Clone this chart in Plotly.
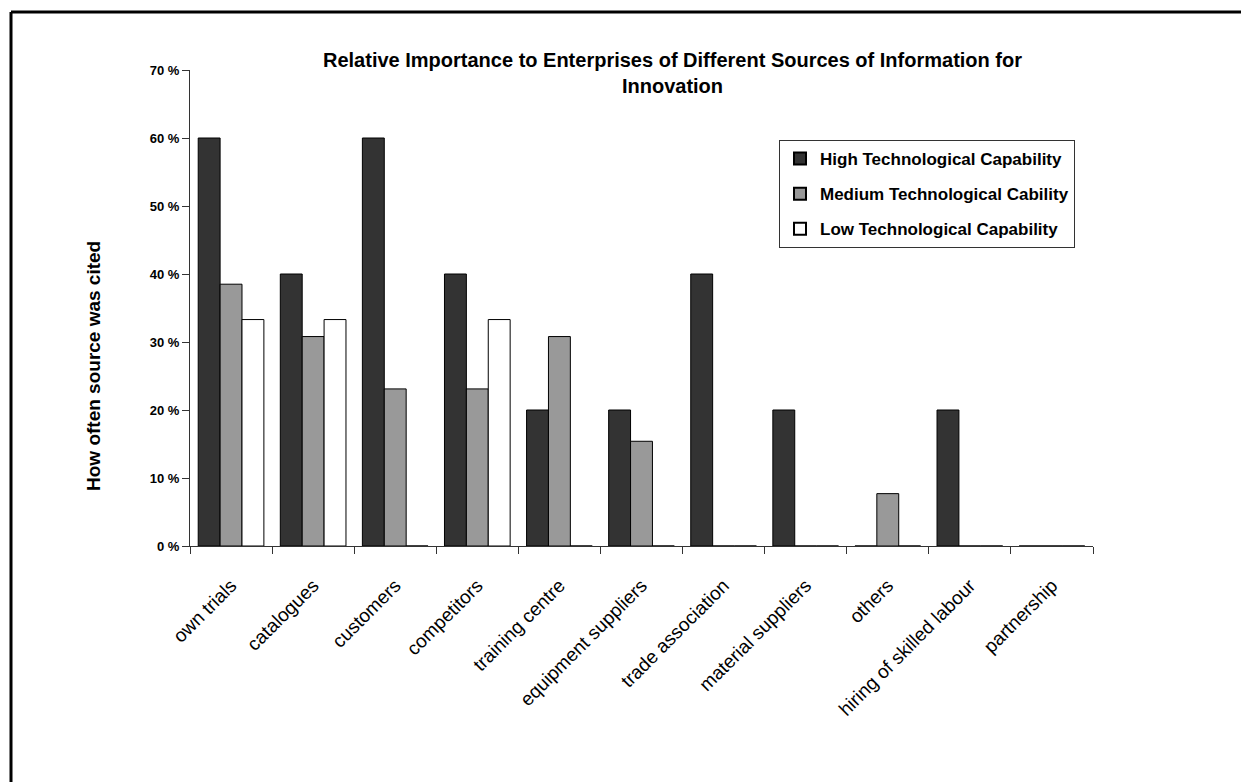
import plotly.graph_objects as go

categories = ["own trials", "catalogues", "customers", "competitors", "training centre",
              "equipment suppliers", "trade association", "material suppliers", "others",
              "hiring of skilled labour", "partnership"]
high = [60, 40, 60, 40, 20, 20, 40, 20, 0, 20, 0]
medium = [38.5, 30.8, 23.1, 23.1, 30.8, 15.4, 0, 0, 7.7, 0, 0]
low = [33.3, 33.3, 0, 33.3, 0, 0, 0, 0, 0, 0, 0]

series_names = ["High Technological Capability", "Medium Technological Cability",
                "Low Technological Capability"]
series_values = [high, medium, low]
series_colors = ["#333333", "#999999", "#ffffff"]

fig = go.Figure()
for i, (name, vals, col) in enumerate(zip(series_names, series_values, series_colors)):
    fig.add_trace(go.Bar(
        x=categories, y=vals, name=name, legendgroup=f"g{i}",
        marker=dict(color=col, line=dict(color="#000000", width=1)),
    ))

L, R, T, B = 190, 148, 70, 236
W, H = 1241, 782
pw, ph = W - L - R, H - T - B

def px_x(x):
    return (x - L) / pw

def px_y(y):
    return (H - B - y) / ph

FONT = "Liberation Sans, Arial, sans-serif"

fig.update_layout(
    width=W, height=H,
    margin=dict(l=L, r=R, t=T, b=B, pad=0),
    paper_bgcolor="white", plot_bgcolor="white",
    barmode="group", bargap=0.2, bargroupgap=0,
    font=dict(family=FONT, color="#000000"),
    showlegend=True,
    legend=dict(
        x=px_x(779), y=px_y(140), xanchor="left", yanchor="top",
        bgcolor="white", bordercolor="#333333", borderwidth=1,
        font=dict(size=17, family=FONT, weight="bold"),
        traceorder="grouped", tracegroupgap=10,
        itemsizing="constant",
    ),
    xaxis=dict(
        showline=True, linecolor="#333333", linewidth=1,
        ticks="outside", tickson="boundaries", ticklen=7, tickcolor="#333333",
        tickangle=-45, tickfont=dict(size=19, family=FONT),
        ticklabelstandoff=20,
        showgrid=False, zeroline=False,
    ),
    yaxis=dict(
        range=[0, 70], dtick=10, ticksuffix=" %",
        showline=True, linecolor="#333333", linewidth=1,
        ticks="outside", ticklen=7, tickcolor="#333333",
        tickfont=dict(size=13, family=FONT, weight="bold"),
        showgrid=False, zeroline=False,
    ),
    annotations=[
        dict(text="Relative Importance to Enterprises of Different Sources of Information for<br>Innovation",
             xref="paper", yref="paper", x=px_x(672), y=px_y(47), xanchor="center", yanchor="top",
             showarrow=False, align="center",
             font=dict(size=20, family=FONT, weight="bold")),
        dict(text="How often source was cited",
             xref="paper", yref="paper", x=px_x(93), y=px_y(366), xanchor="center", yanchor="middle",
             showarrow=False, textangle=-90,
             font=dict(size=19, family="Liberation Sans Narrow, Arial Narrow, Liberation Sans, Arial", weight="bold")),
    ],
    shapes=[
        dict(type="line", xref="paper", yref="paper", x0=px_x(11), x1=px_x(1260),
             y0=px_y(12), y1=px_y(12), line=dict(color="#000000", width=3)),
        dict(type="line", xref="paper", yref="paper", x0=px_x(11), x1=px_x(11),
             y0=px_y(12), y1=px_y(800), line=dict(color="#000000", width=3)),
    ],
)

fig.write_html("out.html", config={"displayModeBar": False},
               post_script="document.body.style.margin='0';document.body.style.padding='0';")
